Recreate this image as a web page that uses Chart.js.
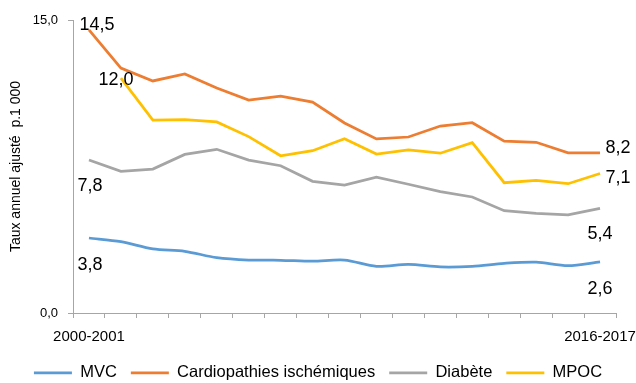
<!DOCTYPE html>
<html>
<head>
<meta charset="utf-8">
<title>Taux annuel ajusté</title>
<script src="https://cdn.jsdelivr.net/npm/chart.js@4/dist/chart.umd.min.js"></script>
<style>
	html, body { margin: 0; padding: 0; background: #fff; }
	#wrap { width: 636px; height: 383px; }
</style>
</head>
<body>
<div id="wrap"><canvas id="tauxChart" width="636" height="383"></canvas></div>
<script>
"use strict";

// periodes (seules la premiere et la derniere sont affichees)
var periodes = ['2000-2001', '2001-2002', '2002-2003', '2003-2004', '2004-2005', '2005-2006',
	'2006-2007', '2007-2008', '2008-2009', '2009-2010', '2010-2011', '2011-2012',
	'2012-2013', '2013-2014', '2014-2015', '2015-2016', '2016-2017'];

// taux annuel ajuste p. 1 000
var mvc     = [3.84, 3.65, 3.28, 3.16, 2.83, 2.71, 2.70, 2.65, 2.71, 2.39, 2.49, 2.36, 2.39, 2.54, 2.60, 2.42, 2.62];
var cardio  = [14.5, 12.54, 11.88, 12.24, 11.52, 10.9, 11.1, 10.8, 9.73, 8.91, 9.01, 9.57, 9.74, 8.8, 8.74, 8.2, 8.2];
var diabete = [7.83, 7.25, 7.37, 8.12, 8.38, 7.83, 7.54, 6.74, 6.55, 6.96, 6.59, 6.21, 5.94, 5.24, 5.1, 5.02, 5.36];
var mpoc    = [null, 12.02, 9.88, 9.9, 9.78, 9.03, 8.05, 8.31, 8.92, 8.14, 8.35, 8.18, 8.72, 6.67, 6.79, 6.62, 7.14];

var yTicks = [0, 15];

var police = '"Liberation Sans", Arial, sans-serif';

// decalage des etiquettes [premier point, dernier point] en px
var decalages = [
	[[1, 27], [0, 27]],
	[[8, -5], [18, -5]],
	[[1, 26], [0, 26]],
	[[-5, 2], [18, 4]]
];

function virgule(v) {
	return v.toFixed(1).replace('.', ',');
}

//=== etiquettes de valeur aux extremites
var valeursPlugin = {
	id: 'valeurs',
	afterDatasetsDraw: function(chart) {
		var ctx = chart.ctx;
		ctx.save();
		ctx.font = '18px ' + police;
		ctx.fillStyle = '#000';
		ctx.textAlign = 'center';
		ctx.textBaseline = 'middle';
		chart.data.datasets.forEach(function(ds, i) {
			var meta = chart.getDatasetMeta(i);
			var premier = ds.data.findIndex(function(v) { return v !== null; });
			var dernier = ds.data.length - 1;
			[[premier, decalages[i][0]], [dernier, decalages[i][1]]].forEach(function(p) {
				var pt = meta.data[p[0]];
				ctx.fillText(virgule(ds.data[p[0]]), pt.x + p[1][0], pt.y + p[1][1]);
			});
		});
		ctx.restore();
	}
};

// descend un peu la legende
var legendePlugin = {
	id: 'legendeBas',
	afterLayout: function(chart) {
		chart.legend.top += 8;
		chart.legend.bottom += 8;
		chart.legend.left += 10;
		chart.legend.right += 10;
	}
};

function serie(label, data, couleur, tension) {
	return {
		label: label,
		data: data,
		borderColor: couleur,
		backgroundColor: couleur,
		borderWidth: 2.75,
		pointRadius: 0,
		tension: tension,
		fill: false
	};
}

var ctx = document.getElementById('tauxChart').getContext('2d');
var myLineChart = new Chart(ctx, {
	type: 'line',
	data: {
		labels: periodes,
		datasets: [
			serie('MVC', mvc, '#5B9BD5', 0.3),
			serie('Cardiopathies ischémiques', cardio, '#ED7D31', 0),
			serie('Diabète', diabete, '#A5A5A5', 0),
			serie('MPOC', mpoc, '#FFC000', 0)
		]
	},
	options: {
		responsive: false,
		animation: false,
		devicePixelRatio: 1,
		layout: { padding: { left: 0, right: 20, top: 20, bottom: 0 } },
		plugins: {
			tooltip: { enabled: false },
			legend: {
				position: 'bottom',
				labels: {
					boxWidth: 38,
					boxHeight: 0,
					padding: 14,
					color: '#000',
					font: { family: police, size: 16.5 }
				}
			}
		},
		scales: {
			x: {
				type: 'category',
				offset: true,
				border: { color: '#A6A6A6', width: 1 },
				grid: { offset: true, drawOnChartArea: false, tickLength: 5, color: '#A6A6A6' },
				ticks: {
					autoSkip: false,
					maxRotation: 0,
					padding: 10,
					color: '#000',
					font: { family: police, size: 15 },
					callback: function(val, idx) {
						if (idx === 0 || idx === periodes.length - 1) return periodes[idx];
						return '';
					}
				},
				afterFit: function(scale) {
					scale.height = 29.5;
					scale.paddingLeft = 0;
					scale.paddingRight = 0;
				}
			},
			y: {
				min: yTicks[0],
				max: yTicks[1],
				border: { color: '#A6A6A6', width: 1 },
				grid: { drawOnChartArea: false, tickLength: 5, color: '#A6A6A6' },
				afterBuildTicks: function(scale) {
					scale.ticks = yTicks.map(function(v) { return { value: v }; });
				},
				ticks: {
					padding: 10,
					color: '#000',
					font: { family: police, size: 13 },
					callback: function(v) { return virgule(v); }
				},
				title: {
					display: true,
					text: 'Taux annuel ajusté  p.1 000',
					color: '#000',
					font: { family: police, size: 14 },
					padding: { top: 8, bottom: 0 }
				},
				afterFit: function(scale) {
					scale.width = 73;
				}
			}
		}
	},
	plugins: [valeursPlugin, legendePlugin]
});
</script>
</body>
</html>
